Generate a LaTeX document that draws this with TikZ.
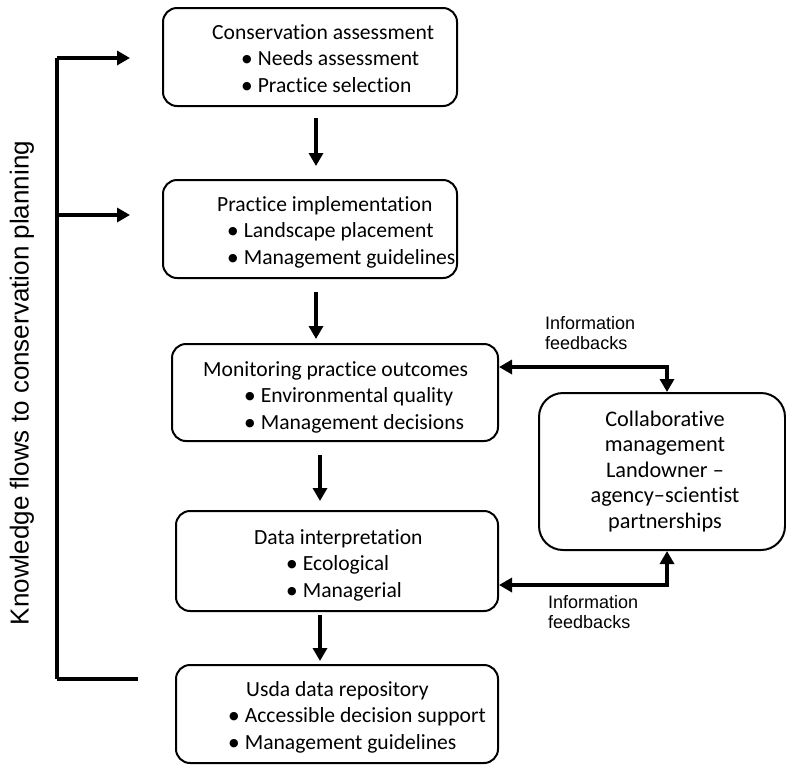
\documentclass[tikz,border=0pt]{standalone}
\usepackage{fontspec}
\setmainfont{Carlito}[Ligatures=NoCommon]
\newfontfamily\arialfont{Liberation Sans}
\newfontfamily\dejavufont{DejaVu Sans}
\usetikzlibrary{arrows.meta}
\tikzset{
  stagebox/.style={draw, line width=2pt, rounded corners=14pt, inner sep=0pt},
  stagetext/.style={anchor=north west, align=left, inner sep=0pt, font=\fontsize{21.6}{26.5}\selectfont},
  flowarrow/.style={line width=3.5pt, -{Triangle[length=13pt,width=14pt]}},
  feedarrow/.style={line width=3.5pt, {Triangle[length=13pt,width=14pt]}-{Triangle[length=13pt,width=14pt]}},
  sidelabel/.style={font=\arialfont\fontsize{18}{20}\selectfont, align=left, inner sep=0pt}
}
\newcommand{\bul}[1]{\hspace*{#1pt}\raisebox{3pt}{\dejavufont\fontsize{11}{11}\selectfont ●}\hspace*{6pt}}
\begin{document}
\begin{tikzpicture}[x=1pt, y=-1pt]
\useasboundingbox (0,0) rectangle (786,764);
% main stages
\node[stagebox, minimum width=294pt, minimum height=98pt] (assess) at (310,57) {};
\node[stagetext] (assesstext) at (212,24) {Conservation assessment\\ \bul{30}Needs assessment\\ \bul{30}Practice selection};
\node[stagebox, minimum width=294pt, minimum height=98pt] (implement) at (310,229) {};
\node[stagetext] (implementtext) at (217,196) {Practice implementation\\ \bul{11}Landscape placement\\ \bul{11}Management guidelines};
\node[stagebox, minimum width=326pt, minimum height=97pt] (monitor) at (335,392.5) {};
\node[stagetext] (monitortext) at (203,361) {Monitoring practice outcomes\\ \bul{42}Environmental quality\\ \bul{42}Management decisions};
\node[stagebox, minimum width=322pt, minimum height=100pt] (interpret) at (337,561) {};
\node[stagetext] (interprettext) at (254,529) {Data interpretation\\ \bul{33}Ecological\\ \bul{33}Managerial};
\node[stagebox, minimum width=322pt, minimum height=98pt] (repository) at (337,714) {};
\node[stagetext] (repositorytext) at (229,681) {\hspace*{17pt}Usda data repository\\ \bul{0}Accessible decision support\\ \bul{0}Management guidelines};
\node[stagebox, minimum width=246pt, minimum height=157pt, rounded corners=24pt, align=center, font=\fontsize{22.3}{25.5}\selectfont] (collab) at (662,471.5) {\hspace*{6pt}Collaborative\\ \hspace*{6pt}management\\ \hspace*{6pt}Landowner --\\ \hspace*{6pt}agency--scientist\\ \hspace*{6pt}partnerships};
% downward flow
\draw[flowarrow] (316,118) -- (316,166);
\draw[flowarrow] (316,292) -- (316,339);
\draw[flowarrow] (320,455) -- (320,501);
\draw[flowarrow] (320,615) -- (320,661);
% knowledge bracket
\coordinate (ktop) at (57,58);
\coordinate (kmid) at (57,215);
\coordinate (kbot) at (57,679);
\draw[line width=4pt] (kbot) -- (ktop);
\draw[flowarrow] (ktop) -- (130,58);
\draw[flowarrow] (kmid) -- (130,215);
\draw[line width=4pt] (kbot) -- (138,679);
\node[font=\arialfont\fontsize{26}{30}\selectfont, rotate=90] (klabel) at (22,383) {Knowledge flows to conservation planning};
% feedbacks
\coordinate (ftop) at (667,367);
\coordinate (fbot) at (667,585);
\draw[feedarrow] (monitor.east |- ftop) -- (ftop) -- (ftop |- collab.north);
\draw[feedarrow] (interpret.east |- fbot) -- (fbot) -- (fbot |- collab.south);
\node[sidelabel, anchor=north west] (ftoplabel) at (545,316) {Information\\feedbacks};
\node[sidelabel, anchor=north west] (fbotlabel) at (548,595) {Information\\feedbacks};
\end{tikzpicture}
\end{document}
